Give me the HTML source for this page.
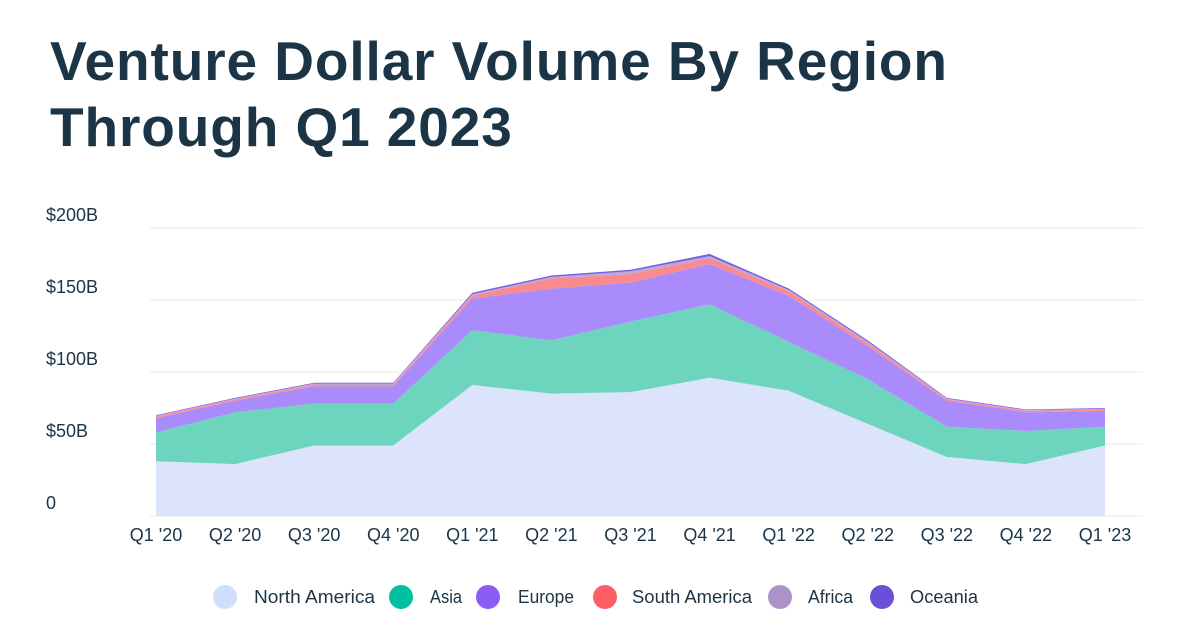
<!DOCTYPE html>
<html><head><meta charset="utf-8">
<style>
body{margin:0;background:#fff;width:1200px;height:642px;overflow:hidden;font-family:"Liberation Sans",sans-serif}
h1{position:absolute;left:50px;top:28px;margin:0;font-size:55px;line-height:66px;font-weight:bold;color:#1b3446;letter-spacing:0.9px}
svg{position:absolute;left:0;top:0}
</style></head><body>
<h1>Venture Dollar Volume By Region<br>Through Q1 2023</h1>
<svg id="c" width="1200" height="642"></svg>
<script>
const categories=["Q1 '20","Q2 '20","Q3 '20","Q4 '20","Q1 '21","Q2 '21","Q3 '21","Q4 '21","Q1 '22","Q2 '22","Q3 '22","Q4 '22","Q1 '23"];
const seriesNames=["North America","Asia","Europe","South America","Africa","Oceania"];
const northAmerica=[38,36,49,49,91,85,86,96,87,64,41,36,49];
const asia=[20,36,29,29,38,37,49,51,34,31,21,23,13];
const europe=[10,8,12,12,22,36,27,28,32,23,18,13,11];
const southAmerica=[1,1,1,1,2,7,6,4,3,2,1,1,1];
const africa=[0.5,0.5,1,1,1,1,2,1.5,1,1,0.5,0.5,0.5];
const oceania=[0.5,0.5,0.5,0.5,1,1,1,1.5,1,1,0.5,0.5,0.5];
const yTicks=[0,50,100,150,200];
const yTickLabels=["0","$50B","$100B","$150B","$200B"];
const fills=["#dbe4fb","#6dd5be","#a98bfb","#fb8a8e","#c0a6d8","#7a5ee0"];
const dots=["#cfdefc","#00c19f","#8b5cf6","#ff5e66","#ad92c8","#6a4fd8"];
const legendDotX=[225,401,488,605,780,882];
const legendTextX=[254,430,518,632,808,910];
const legendTextW=[121,32,56,120,45,68];
const NS="http://www.w3.org/2000/svg";
const svg=document.getElementById('c');
const x=i=>156+i*(1105-156)/(categories.length-1);
const y=v=>516-v*(516-228)/200;
function mk(t,a){const e=document.createElementNS(NS,t);for(const k in a)e.setAttribute(k,a[k]);svg.appendChild(e);return e;}
yTicks.forEach((t,i)=>{
 const g=mk('line',{x1:150,x2:1143,y1:y(t),y2:y(t),stroke:'#e6e8eb','stroke-width':1});
 
 
 const l=mk('text',{x:46,y:y(t)-7,'font-size':18,fill:'#1b3446'});l.textContent=yTickLabels[i];
 
 
});
const all=[northAmerica,asia,europe,southAmerica,africa,oceania];
let base=categories.map(()=>0);
all.forEach((s,si)=>{
 const top=base.map((b,i)=>b+s[i]);
 let d='M'+top.map((v,i)=>x(i)+','+y(v)).join(' L');
 for(let i=base.length-1;i>=0;i--)d+=' L'+x(i)+','+y(base[i]);
 const p=mk('path',{d:d+'Z',fill:fills[si]});
 
 
 base=top;
});
categories.forEach((c,i)=>{
 const t=mk('text',{x:x(i),y:541,'font-size':18,fill:'#1b3446','text-anchor':'middle'});t.textContent=c;
 
 
});
seriesNames.forEach((n,i)=>{
 const c=mk('circle',{cx:legendDotX[i],cy:597,r:12,fill:dots[i]});
 
 
 const t=mk('text',{x:legendTextX[i],y:603,'font-size':18,fill:'#1b3446',textLength:legendTextW[i],lengthAdjust:'spacingAndGlyphs'});t.textContent=n;
 
 
});
</script>
</body></html>
